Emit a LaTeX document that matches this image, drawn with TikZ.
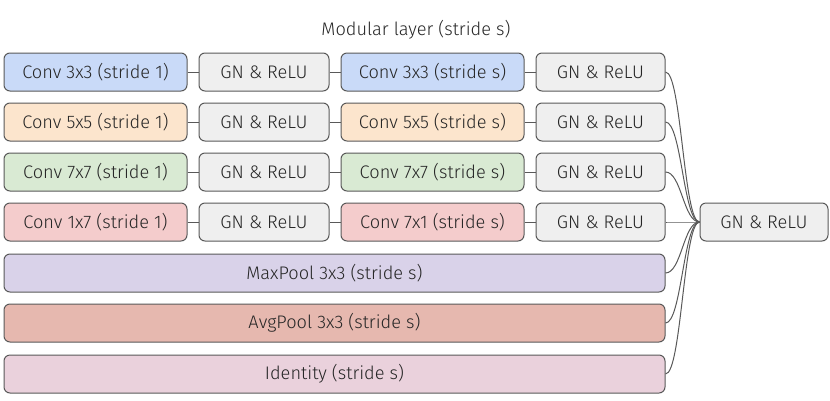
\documentclass[tikz,border=0pt]{standalone}
\usepackage{fontspec}
\setmainfont{Fira Sans}[UprightFont=* Light]
\definecolor{edge}{HTML}{595959}
\definecolor{txt}{HTML}{262626}
\definecolor{gnfill}{HTML}{EFEFEF}
\definecolor{bluefill}{HTML}{C9DAF8}
\definecolor{orangefill}{HTML}{FCE5CD}
\definecolor{greenfill}{HTML}{D9EAD3}
\definecolor{redfill}{HTML}{F4CCCC}
\definecolor{maxfill}{HTML}{D9D2E9}
\definecolor{avgfill}{HTML}{E6B8AF}
\definecolor{idfill}{HTML}{EAD1DC}

\begin{document}
\begin{tikzpicture}[x=1pt,y=-1pt,
  blk/.style={draw=edge,line width=1pt,rounded corners=6pt,inner sep=0pt,
    minimum height=38pt,text=txt,font=\fontsize{18.2}{22}\selectfont},
  convbox/.style={blk,minimum width=183pt},
  gnbox/.style={blk,fill=gnfill,minimum width=130pt},
  widebox/.style={blk,minimum width=661pt},
  link/.style={draw=edge,line width=1pt}]
\useasboundingbox (0,0) rectangle (830,400);

\node[text=txt,font=\fontsize{18.2}{22}\selectfont] (title) at (416,30) {Modular layer (stride s)};

% four conv branches
\foreach \r/\y/\c/\ka/\kb in {1/72/bluefill/3x3/3x3,2/122/orangefill/5x5/5x5,
    3/172/greenfill/7x7/7x7,4/222/redfill/1x7/7x1} {
  \node[convbox,fill=\c] (convA\r) at (95.5,\y) {Conv \ka\ (stride 1)};
  \node[gnbox] (gnA\r) at (264,\y) {GN \& ReLU};
  \node[convbox,fill=\c] (convB\r) at (432.5,\y) {Conv \kb\ (stride s)};
  \node[gnbox,minimum width=129pt] (gnB\r) at (600.5,\y) {GN \& ReLU};
  \draw[link] (convA\r) -- (gnA\r);
  \draw[link] (gnA\r) -- (convB\r);
  \draw[link] (convB\r) -- (gnB\r);
}

% pooling and identity branches
\node[widebox,fill=maxfill] (maxpool) at (334.5,273) {MaxPool 3x3 (stride s)};
\node[widebox,fill=avgfill] (avgpool) at (334.5,323) {AvgPool 3x3 (stride s)};
\node[widebox,fill=idfill] (ident) at (334.5,374) {Identity (stride s)};

\node[blk,fill=gnfill,minimum width=128pt] (out) at (764,222) {GN \& ReLU};

\foreach \n in {gnB1,gnB2,gnB3,gnB4,maxpool,avgpool,ident}
  \draw[link] (\n.east) .. controls +(16,0) and +(-16,0) .. (out.west);
\end{tikzpicture}
\end{document}
